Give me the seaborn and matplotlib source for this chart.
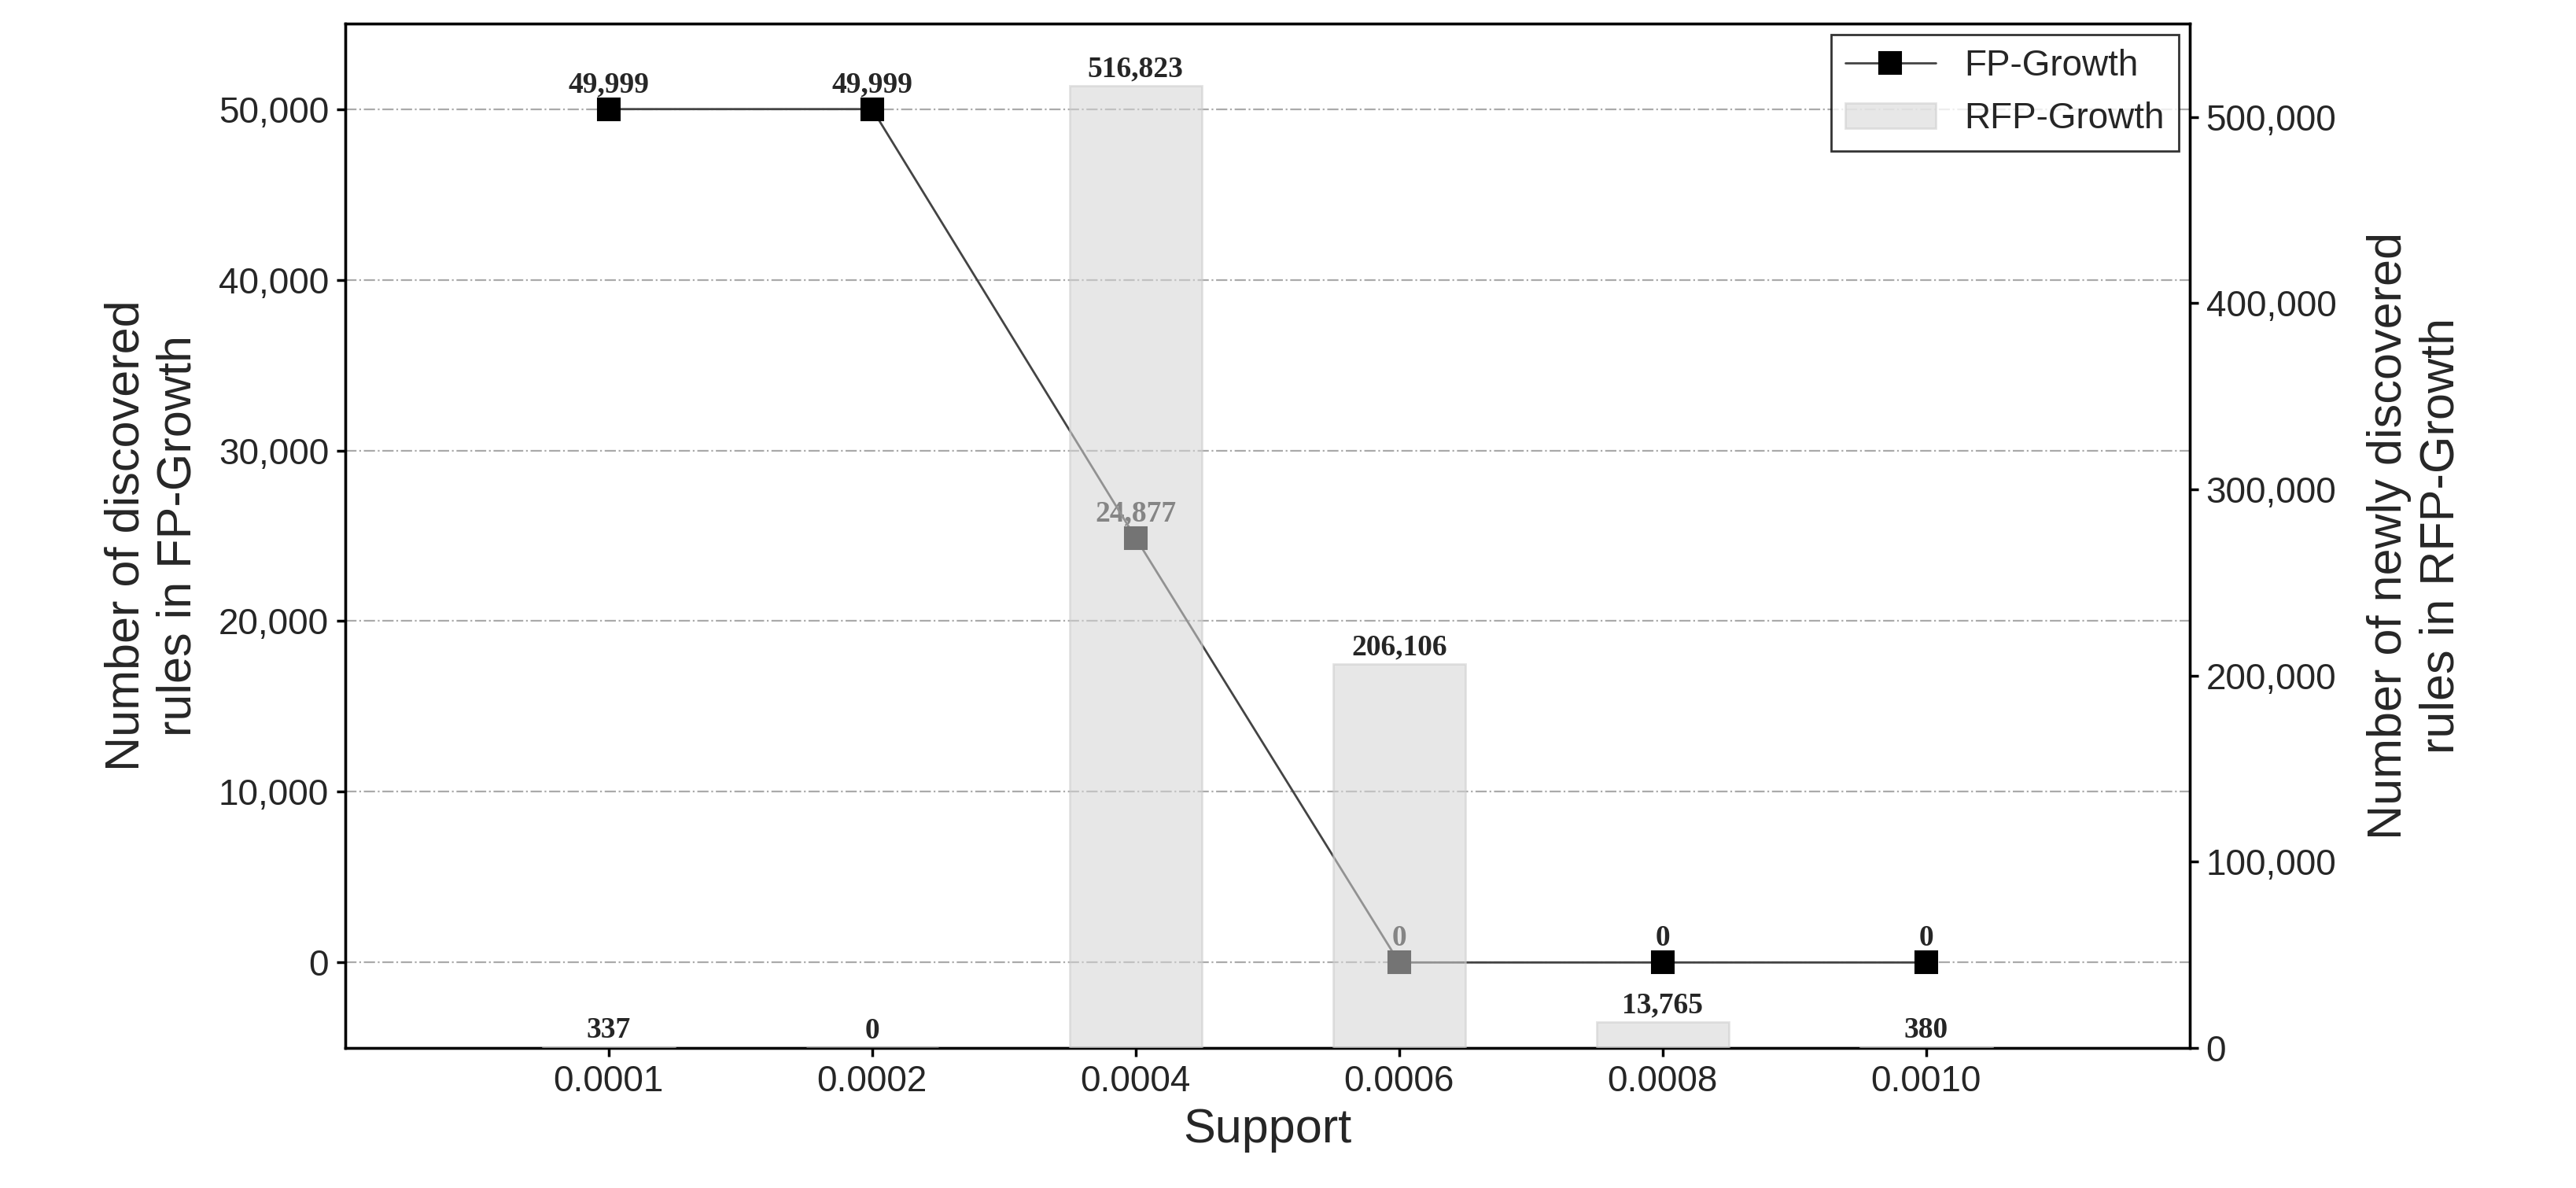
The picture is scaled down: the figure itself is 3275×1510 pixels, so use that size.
import matplotlib
matplotlib.use("Agg")
import matplotlib.pyplot as plt
import seaborn as sns
import pandas as pd
import numpy as np
from matplotlib.ticker import FuncFormatter

support = ["0.0001", "0.0002", "0.0004", "0.0006", "0.0008", "0.0010"]
fp_growth = [49999, 49999, 24877, 0, 0, 0]
rfp_growth = [337, 0, 516823, 206106, 13765, 380]

sns.set_theme(style="white")
plt.rcParams['font.family'] = ['Liberation Sans', 'DejaVu Sans']

df = pd.DataFrame({"support": support, "pos": np.arange(len(support)),
                   "fp": fp_growth, "rfp": rfp_growth})

fig, ax = plt.subplots(figsize=(16.375, 7.55), dpi=200)
fig.subplots_adjust(left=0.134, right=0.85, top=0.98, bottom=0.118)
ax2 = ax.twinx()

sns.lineplot(data=df, x="pos", y="fp", ax=ax, color="#444444", lw=1,
             marker="s", markersize=10, markerfacecolor="black",
             markeredgecolor="black", label="FP-Growth", zorder=2)
sns.barplot(data=df, x="support", y="rfp", ax=ax2, color="#d4d4d4",
            alpha=0.55, width=0.5, edgecolor="#cccccc", label="RFP-Growth",
            zorder=3)
for a in (ax, ax2):
    a.set_xlim(-1, 6)
ax.set_ylim(-5000, 55000)
ax2.set_ylim(0, 550000)
ax.set_yticks(range(0, 50001, 10000))
ax2.set_yticks(range(0, 500001, 100000))
fmt = FuncFormatter(lambda v, p: f"{int(v):,}")
ax.yaxis.set_major_formatter(fmt)
ax2.yaxis.set_major_formatter(fmt)
ax.set_xticks(range(len(support)))
ax.set_xticklabels(support)
ax2.set_xticks(range(len(support)))
ax2.set_xticklabels(support)
ax.grid(axis="y", linestyle="-.", color="#aaaaaa", lw=0.8)
ax.set_zorder(0)
ax2.set_zorder(1)
ax2.patch.set_visible(False)

for a in (ax, ax2):
    a.tick_params(labelsize=16.5, length=4, direction="out", color="black")
    for s in a.spines.values():
        s.set_color("black"); s.set_linewidth(1.2)
ax.tick_params(left=True, bottom=True)
ax2.tick_params(right=True, bottom=True)

ax.set_xlabel("Support", fontsize=22, labelpad=4)
ax2.set_xlabel("")
ax.set_ylabel("Number of discovered\nrules in FP-Growth", fontsize=22, labelpad=8)
ax2.set_ylabel("Number of newly discovered\nrules in RFP-Growth", fontsize=22, labelpad=14)

serif = dict(family=["Liberation Serif"], fontweight="bold", fontsize=13.5,
             ha="center", va="bottom")
for i, v in enumerate(fp_growth):
    ax.text(i, v + 600, f"{v:,}", **serif, zorder=1)
for i, v in enumerate(rfp_growth):
    ax2.text(i, v + 1500, f"{v:,}", **serif, zorder=5)

h1, l1 = ax.get_legend_handles_labels()
h2, l2 = ax2.get_legend_handles_labels()
if ax.get_legend(): ax.get_legend().remove()
if ax2.get_legend(): ax2.get_legend().remove()
leg = ax2.legend(h1 + h2, l1 + l2, loc="upper right", fontsize=16.5,
                 frameon=True, fancybox=False, edgecolor="black",
                 handlelength=2.5, borderaxespad=0.3)
leg.get_frame().set_linewidth(1)
fig.savefig("out.png", dpi=200)
